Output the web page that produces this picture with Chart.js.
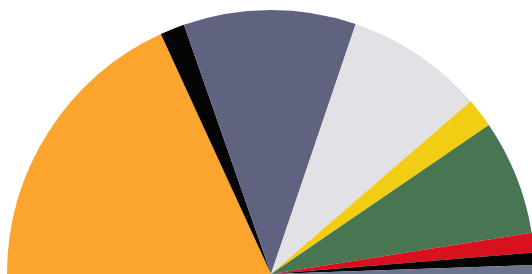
<!DOCTYPE html>
<html>
<head>
<meta charset="utf-8">
<script src="https://cdn.jsdelivr.net/npm/chart.js@4"></script>
<style>
  html, body { margin: 0; padding: 0; background: #fff; overflow: hidden; }
  #wrap { width: 540px; height: 274px; }
</style>
</head>
<body>
<div id="wrap"><canvas id="pie-chart" width="540" height="274"></canvas></div>
<script>
// slices, left to right round the half circle
const parties = ["A", "B", "C", "D", "E", "F", "G", "H", "I"];
const shares = [36.3, 3.0, 21.1, 16.9, 3.6, 14.1, 2.4, 1.5, 1.1];
const sliceColors = ["#fba42e", "#050505", "#5f6380", "#e2e2e6", "#f3cd14",
                     "#487653", "#d8101f", "#050505", "#6c7590"];

new Chart(document.getElementById("pie-chart"), {
    type: 'pie',
    data: {
        labels: parties,
        datasets: [{
            data: shares,
            backgroundColor: sliceColors,
            borderWidth: 0
        }]
    },
    options: {
        responsive: false,
        animation: false,
        rotation: -90,
        circumference: 180,
        layout: { padding: { left: 7, right: 5, top: 10, bottom: 0 } },
        plugins: {
            legend: { display: false },
            tooltip: { enabled: false }
        }
    }
});
</script>
</body>
</html>
